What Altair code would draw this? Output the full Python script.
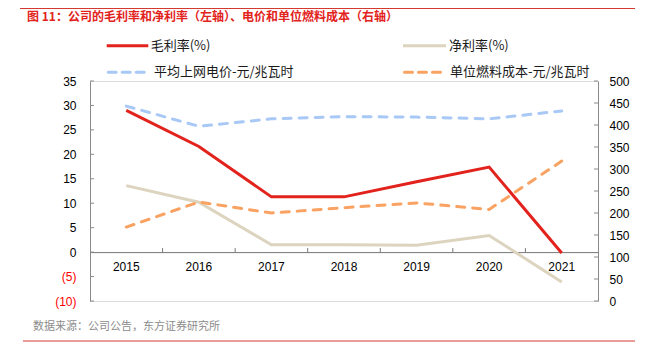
import altair as alt
import pandas as pd

years = ["2015", "2016", "2017", "2018", "2019", "2020", "2021"]
gross_margin = [29.0, 21.6, 11.3, 11.3, 14.4, 17.4, -0.2]
net_margin = [13.6, 10.2, 1.5, 1.5, 1.4, 3.4, -6.1]
grid_price = [443, 397, 414, 419, 418, 414, 432]
fuel_cost = [168, 225, 200, 212, 223, 208, 318]

left_names = ["毛利率(%)", "净利率(%)"]
right_names = ["平均上网电价-元/兆瓦时", "单位燃料成本-元/兆瓦时"]
colors = ["#e2221c", "#ddd4bf", "#a8c8f6", "#f9a262"]
left_ticks = [-10, -5, 0, 5, 10, 15, 20, 25, 30, 35]
right_ticks = [0, 50, 100, 150, 200, 250, 300, 350, 400, 450, 500]

title_text = "图 11：公司的毛利率和净利率（左轴）、电价和单位燃料成本（右轴）"
source_text = "数据来源：公司公告，东方证券研究所"

NUM_FONT = "Liberation Sans"
CJK_FONT = "Noto Sans CJK SC"
AXIS_GREY = "#8a8a8a"

W, H = 508, 220

left_df = pd.DataFrame({
    "year": years * 2,
    "value": gross_margin + net_margin,
    "series": [left_names[0]] * 7 + [left_names[1]] * 7,
})
right_df = pd.DataFrame({
    "year": years * 2,
    "value": grid_price + fuel_cost,
    "series": [right_names[0]] * 7 + [right_names[1]] * 7,
})

xscale = alt.Scale(type="band", domain=years, paddingInner=0, paddingOuter=0)
xaxis = alt.Axis(
    title=None, orient="bottom", offset=-(H * 10 / 45),
    domainColor="#777777", domainWidth=1, ticks=False, tickSize=0,
    labelFont=NUM_FONT, labelFontSize=12, labelColor="#000000",
    labelPadding=9, labelAngle=0, grid=False,
)

left_y = alt.Scale(domain=[-10, 35], nice=False, zero=False)
right_y = alt.Scale(domain=[0, 500], nice=False)

left_axis = alt.Axis(
    orient="left", title=None, values=left_ticks, grid=False,
    domainColor=AXIS_GREY, ticks=False, tickSize=0, labelPadding=14,
    labelFont=NUM_FONT, labelFontSize=12,
    labelColor={"condition": {"test": "datum.value < 0", "value": "#ff0000"}, "value": "#000000"},
    labelExpr="datum.value < 0 ? '(' + format(-datum.value, 'd') + ')' : format(datum.value, 'd')",
)
right_axis = alt.Axis(
    orient="right", title=None, values=right_ticks, grid=False,
    domainColor=AXIS_GREY, ticks=False, tickSize=0, labelPadding=11,
    labelFont=NUM_FONT, labelFontSize=12, labelColor="#000000",
)

color_scale = alt.Scale(domain=left_names + right_names, range=colors)

left_lines = alt.Chart(left_df).mark_line(strokeWidth=3, strokeJoin="miter").encode(
    x=alt.X("year:O", scale=xscale, axis=xaxis),
    y=alt.Y("value:Q", scale=left_y, axis=left_axis),
    color=alt.Color("series:N", scale=color_scale, legend=None),
)

lt_df = pd.DataFrame({"v": left_ticks})
left_tick_marks = alt.Chart(lt_df).mark_rule(color=AXIS_GREY, strokeWidth=1).encode(
    y=alt.Y("v:Q", scale=left_y, axis=left_axis),
    x=alt.value(0), x2=alt.value(4),
)

xt_df = pd.DataFrame({"year": years[1:], "z": [0] * 6})
x_tick_marks = alt.Chart(xt_df).mark_rule(color="#777777", strokeWidth=1, y2Offset=-4).encode(
    x=alt.X("year:O", scale=xscale, axis=xaxis, bandPosition=0),
    y=alt.Y("z:Q", scale=left_y, axis=left_axis),
    y2=alt.Y2("z:Q"),
)

left_group = alt.layer(left_lines, left_tick_marks, x_tick_marks)

right_lines = alt.Chart(right_df).mark_line(strokeWidth=3, strokeDash=[8, 8], strokeCap="round").encode(
    x=alt.X("year:O", scale=xscale, axis=xaxis),
    y=alt.Y("value:Q", scale=right_y, axis=right_axis),
    color=alt.Color("series:N", scale=color_scale, legend=None),
)
rt_df = pd.DataFrame({"v": right_ticks})
right_tick_marks = alt.Chart(rt_df).mark_rule(color=AXIS_GREY, strokeWidth=1).encode(
    y=alt.Y("v:Q", scale=right_y, axis=right_axis),
    x=alt.value(W - 4), x2=alt.value(W),
)
right_group = alt.layer(right_lines, right_tick_marks)

one = pd.DataFrame({"a": [0]})
base = alt.Chart(one)

deco = [
    base.mark_text(text=title_text, font=CJK_FONT, fontSize=12, fontWeight="bold",
                   color="#e2231c", align="left", baseline="middle").encode(
        x=alt.value(-63), y=alt.value(-64.5)),
    base.mark_rule(color="#d43a30", strokeWidth=1).encode(
        x=alt.value(-70), x2=alt.value(545), y=alt.value(-72.5)),
    base.mark_text(text=source_text, font=CJK_FONT, fontSize=11,
                   color="#8c8c8c", align="left", baseline="middle").encode(
        x=alt.value(-57), y=alt.value(246)),
    base.mark_rule(color="#d43a30", strokeWidth=1).encode(
        x=alt.value(-67), x2=alt.value(545), y=alt.value(260)),
]

legend_items = [
    (left_names[0], colors[0], 16.7, 58.3, 60.7, -35.3, False),
    (left_names[1], colors[1], 313, 356, 359, -35.3, False),
    (right_names[0], colors[2], 16.7, 56, 64, -8.7, True),
    (right_names[1], colors[3], 313, 352, 360, -8.7, True),
]
for name, col, x1, x2, tx, yy, dashed in legend_items:
    if dashed:
        sym = base.mark_rule(color=col, strokeWidth=3, strokeDash=[8, 6], strokeCap="round")
    else:
        sym = base.mark_rule(color=col, strokeWidth=3)
    deco.append(sym.encode(x=alt.value(x1 + 1.5 if dashed else x1), x2=alt.value(x2 - 1.5 if dashed else x2), y=alt.value(yy)))
    deco.append(base.mark_text(text=name, font=CJK_FONT, fontSize=13, color="#1a1a1a",
                               align="left", baseline="middle").encode(
        x=alt.value(tx), y=alt.value(yy)))

chart = alt.layer(left_group, right_group, *deco).resolve_scale(
    y="independent"
).properties(
    width=W, height=H,
    autosize=alt.AutoSizeParams(type="none"),
    padding={"left": 82, "top": 73, "right": 45, "bottom": 50},
).configure_view(stroke=None).configure(background="#ffffff")

chart.save("out.html", embed_options={"renderer": "svg", "actions": False})
